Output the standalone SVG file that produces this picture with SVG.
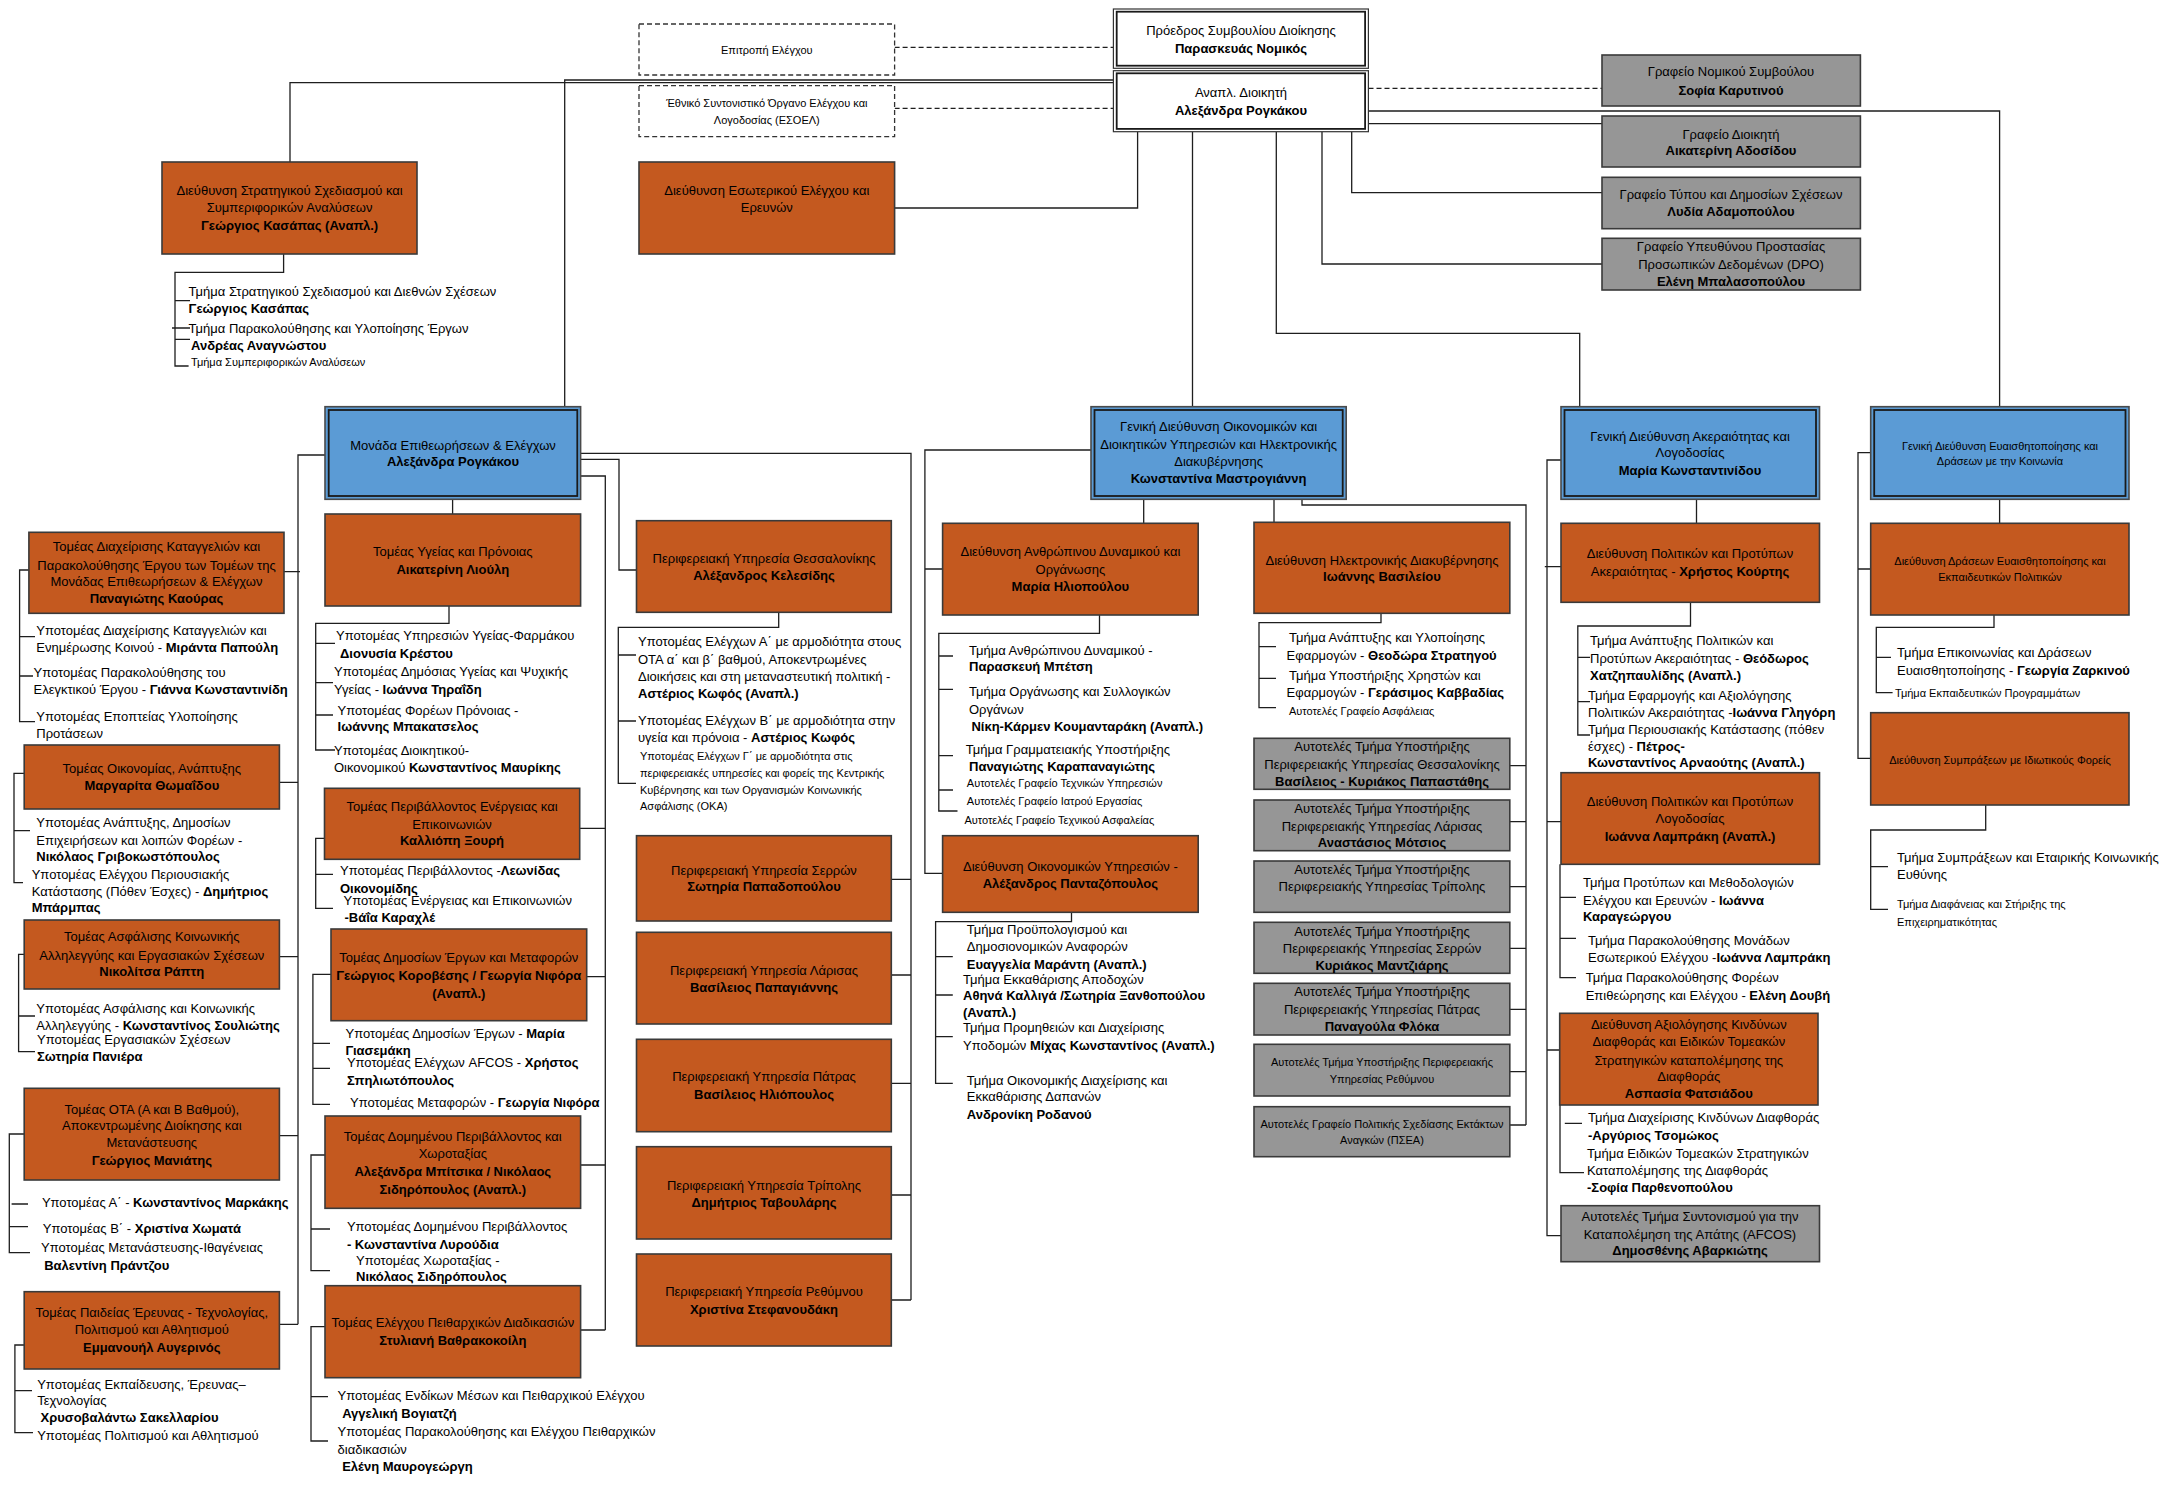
<svg xmlns="http://www.w3.org/2000/svg" width="2162" height="1491" viewBox="0 0 2162 1491">
<style>
.t{font-family:"Liberation Sans",Arial,sans-serif;font-size:13px;fill:#000}
.c{text-anchor:middle}
.b{font-weight:bold}
.n{font-size:11px}
.or{fill:#C4591F;stroke:#3a3a3a;stroke-width:1.6}
.gr{fill:#969696;stroke:#3a3a3a;stroke-width:1.6}
.bl{fill:#5B9BD5;stroke:#4a4a4a;stroke-width:1.6}
.in{fill:none;stroke:#1a1a1a;stroke-width:1.8}
.wh{fill:#fff;stroke:#333;stroke-width:1.2}
.ds{fill:#fff;stroke:#333;stroke-width:1.3;stroke-dasharray:5,3}
.ln{fill:none;stroke:#1e1e1e;stroke-width:1.3}
.dl{fill:none;stroke:#1e1e1e;stroke-width:1.3;stroke-dasharray:5,3}
</style>
<rect width="2162" height="1491" fill="#fff"/>
<g id="connectors">
<path class="dl" d="M894.6,47.3H1113.4M894.6,108.3H1113.4M1368.5,88.3H1602"/>
<path class="ln" d="M1113.4,80H564.7V406.7M1113.4,82.7H290V162M1368.5,111H1999.6V406.7M1368.5,123.7H1602M1137.6,131.7V208H894.6M1192.5,131.7V406.7M1276.3,131.7V333.3H1579.7V406.7M1322,131.7V264H1602M1351.7,131.7V192.7H1602"/>
<path class="ln" d="M283.6,254V272.3H175V366H188.6M175,300.7H190M172,328H190M175,339.3H190"/>
<path class="ln" d="M325,455H298V1324.3M284,571.7H300M279.4,782.3H298M279.4,956.7H298M279.4,1135.7H298M279.4,1324.3H298"/>
<path class="ln" d="M580.6,453.3H911V1300M891.3,879.3H911M891.3,975H911M891.3,1083.3H911M891.3,1195H911M891.3,1300H911"/>
<path class="ln" d="M580.6,459.3H619V570H636.5"/>
<path class="ln" d="M577.3,476H605.3V1330M579.7,828.3H605.3M586.7,976.7H605.3M580.6,1165H605.3M580.6,1330H605.3"/>
<path class="ln" d="M452.6,499.3V514"/>
<path class="ln" d="M449,606V623.3H315.7V750H335M315.7,643.3H335M315.7,682.7H333M315.7,715H333"/>
<path class="ln" d="M28.9,570H19.6V721.7H35M19.6,636.7H35M19.6,676H33"/>
<path class="ln" d="M24.2,773.3H14V882.7H23M14,830.7H30"/>
<path class="ln" d="M24.2,954.3H18.6V1051.7H35M18.6,1016H35"/>
<path class="ln" d="M24.2,1134H9.3V1252.7H30M11.6,1204H28M9.3,1226.7H28"/>
<path class="ln" d="M24.2,1345H14.9V1432.7H33M14.9,1390.7H32"/>
<path class="ln" d="M778.7,612.3V627.3H618.3V783.3H636M618.3,655H636M618.3,721H636"/>
<path class="ln" d="M324.5,838.3H315.7V908.3H333M315.7,874.3H333"/>
<path class="ln" d="M331,974.3H312.9V1104.3H330M312.9,1043.3H330M312.9,1068.3H330"/>
<path class="ln" d="M325,1155H311V1270.7H330M311,1229H330"/>
<path class="ln" d="M325,1326.7H311V1441H328M311,1396.7H328"/>
<path class="ln" d="M1091,450H924.9V873.3H942.6M924.9,569H942.6M1143.7,499.3V523.3M1274,499.3V522.3"/>
<path class="ln" d="M1302,499.3V505H1526V1125M1509.8,765.7H1526M1509.8,821.7H1526M1509.8,886.7H1526M1509.8,948.3H1526M1509.8,1009.3H1526M1509.8,1071.7H1526M1509.8,1125H1526"/>
<path class="ln" d="M1099.5,615V633.3H938.8V811H957.5M938.8,656H953M938.8,689.3H953M938.8,755.7H953M938.8,790H953"/>
<path class="ln" d="M1071.5,912.3V921.7H935.6V1083.3H952.8M935.6,956.7H952.8M935.6,995H952.8M935.6,1036.7H952.8"/>
<path class="ln" d="M1381,613.3V622.7H1259V707.7H1276M1259,646.7H1276M1259,678.3H1276"/>
<path class="ln" d="M1561,460H1547V1235.7H1561M1544.8,566.7H1561M1547,821.7H1561M1547,1050H1559.7M1696.5,499.3V523.3"/>
<path class="ln" d="M1690.5,602.3V626H1577.8V735H1590M1577.8,657.3H1590M1577.8,701.7H1590"/>
<path class="ln" d="M1560,864.3V977.7H1576M1560,897.3H1576M1560,938.3H1576"/>
<path class="ln" d="M1560,1105V1172.7H1584M1564.8,1123.3H1582"/>
<path class="ln" d="M1870.7,452.7H1858V758.3H1870.7M1858,569H1870.7M1999.6,499.3V523.3"/>
<path class="ln" d="M1994,615V627.3H1876.3V692.7H1892.6M1876.3,657.3H1891"/>
<path class="ln" d="M1985.7,805V830H1870.7V909.3H1888M1870.7,866.7H1888"/>
</g>

<g id="epitropi"><rect class="ds" x="639" y="24" width="255.6" height="51"/><text class="t c n" x="766.8" y="54">Επιτροπή Ελέγχου</text></g>
<g id="esoel"><rect class="ds" x="639" y="85.7" width="255.6" height="51"/><text class="t c n" x="766.8" y="107">Έθνικό Συντονιστικό Όργανο Ελέγχου και</text><text class="t c n" x="766.8" y="123.5">Λογοδοσίας (ΕΣΟΕΛ)</text></g>
<g id="proedros"><rect class="wh" x="1113.4" y="9" width="255" height="59.3"/><rect class="in" x="1116.7" y="11.7" width="248.4" height="54"/><text class="t c" x="1241" y="35.2">Πρόεδρος Συμβουλίου Διοίκησης</text><text class="t c b" x="1241" y="53.2">Παρασκευάς Νομικός</text></g>
<g id="anapl"><rect class="wh" x="1113.4" y="70.7" width="255" height="61"/><rect class="in" x="1116.7" y="73.3" width="248.4" height="55.6"/><text class="t c" x="1241" y="97.2">Αναπλ. Διοικητή</text><text class="t c b" x="1241" y="114.5">Αλεξάνδρα Ρογκάκου</text></g>
<g id="nomikos"><rect class="gr" x="1602" y="55" width="258.4" height="51"/><text class="t c" x="1731" y="76.2">Γραφείο Νομικού Συμβούλου</text><text class="t c b" x="1731" y="94.5">Σοφία Καρυτινού</text></g>
<g id="grafeio-dioikiti"><rect class="gr" x="1602" y="116" width="258.4" height="51"/><text class="t c" x="1731" y="138.5">Γραφείο Διοικητή</text><text class="t c b" x="1731" y="155.2">Αικατερίνη Αδοσίδου</text></g>
<g id="typou"><rect class="gr" x="1602" y="177.3" width="258.4" height="51.4"/><text class="t c" x="1731" y="198.8">Γραφείο Τύπου και Δημοσίων Σχέσεων</text><text class="t c b" x="1731" y="216.2">Λυδία Αδαμοπούλου</text></g>
<g id="dpo"><rect class="gr" x="1602" y="238.3" width="258.4" height="51.7"/><text class="t c" x="1731" y="251.2">Γραφείο Υπευθύνου Προστασίας</text><text class="t c" x="1731" y="268.8">Προσωπικών Δεδομένων (DPO)</text><text class="t c b" x="1731" y="286.2">Ελένη Μπαλασοπούλου</text></g>
<g id="stratigikou"><rect class="or" x="162" y="162" width="255" height="92"/><text class="t c" x="289.6" y="195.2">Διεύθυνση  Στρατηγικού Σχεδιασμού και</text><text class="t c" x="289.6" y="211.8">Συμπεριφορικών Αναλύσεων</text><text class="t c b" x="289.6" y="230.2">Γεώργιος Κασάπας (Αναπλ.)</text></g>
<g id="esoterikou"><rect class="or" x="639" y="162" width="255.6" height="92"/><text class="t c" x="766.8" y="195.2">Διεύθυνση Εσωτερικού Ελέγχου και</text><text class="t c" x="766.8" y="211.8">Ερευνών</text></g>
<g id="stratigikou-list"><text class="t" x="188.6" y="296.2">Τμήμα Στρατηγικού Σχεδιασμού και Διεθνών Σχέσεων</text><text class="t b" x="188.6" y="312.8">Γεώργιος Κασάπας</text><text class="t" x="188.6" y="333.2">Τμήμα Παρακολούθησης και Υλοποίησης Έργων</text><text class="t b" x="191" y="350.2">Ανδρέας Αναγνώστου</text><text class="t n" x="191" y="366.2">Τμήμα Συμπεριφορικών Αναλύσεων</text></g>

<g id="monada"><rect class="bl" x="325" y="406.7" width="255.6" height="92.6"/><rect class="in" x="328.7" y="410" width="248.6" height="86"/><text class="t c" x="453" y="449.5">Μονάδα Επιθεωρήσεων &amp; Ελέγχων</text><text class="t c b" x="453" y="466.2">Αλεξάνδρα Ρογκάκου</text></g>
<g id="gd-oikonomikon"><rect class="bl" x="1091" y="406.7" width="255.2" height="92.6"/><rect class="in" x="1094.5" y="410" width="248.2" height="86"/><text class="t c" x="1218.6" y="431.2">Γενική Διεύθυνση Οικονομικών και</text><text class="t c" x="1218.6" y="448.5">Διοικητικών Υπηρεσιών και Ηλεκτρονικής</text><text class="t c" x="1218.6" y="465.8">Διακυβέρνησης</text><text class="t c b" x="1218.6" y="483.2">Κωνσταντίνα Μαστρογιάννη</text></g>
<g id="gd-akeraiotitas"><rect class="bl" x="1561" y="406.7" width="258.5" height="92.6"/><rect class="in" x="1564.5" y="410" width="251.5" height="86"/><text class="t c" x="1690" y="440.5">Γενική Διεύθυνση Ακεραιότητας και</text><text class="t c" x="1690" y="457.2">Λογοδοσίας</text><text class="t c b" x="1690" y="475.2">Μαρία Κωνσταντινίδου</text></g>
<g id="gd-euaisthitopoiisis"><rect class="bl" x="1870.7" y="406.7" width="258.3" height="92.6"/><rect class="in" x="1874.2" y="410" width="251.3" height="86"/><text class="t c n" x="2000" y="449.5">Γενική Διεύθυνση Ευαισθητοποίησης και</text><text class="t c n" x="2000" y="465.2">Δράσεων με την Κοινωνία</text></g>

<g id="katagelion"><rect class="or" x="28.9" y="532.3" width="255.1" height="81"/><text class="t c" x="156.5" y="551.2">Τομέας Διαχείρισης Καταγγελιών και</text><text class="t c" x="156.5" y="569.5">Παρακολούθησης Έργου των Τομέων της</text><text class="t c" x="156.5" y="586.2">Μονάδας Επιθεωρήσεων &amp; Ελέγχων</text><text class="t c b" x="156.5" y="603.2">Παναγιώτης Καούρας</text></g>
<g id="katagelion-list"><text class="t" x="36.3" y="635.2">Υποτομέας Διαχείρισης Καταγγελιών και</text><text class="t" x="36.3" y="652.2">Ενημέρωσης Κοινού - <tspan class="b">Μιράντα Παπούλη</tspan></text><text class="t" x="33.5" y="677.2">Υποτομέας Παρακολούθησης του</text><text class="t" x="33.5" y="693.8">Ελεγκτικού Έργου - <tspan class="b">Γιάννα Κωνσταντινίδη</tspan></text><text class="t" x="36.3" y="720.5">Υποτομέας Εποπτείας Υλοποίησης</text><text class="t" x="36.3" y="737.8">Προτάσεων</text></g>

<g id="ygeias"><rect class="or" x="325" y="514" width="255.6" height="92"/><text class="t c" x="452.8" y="556.2">Τομέας Υγείας και Πρόνοιας</text><text class="t c b" x="452.8" y="573.5">Αικατερίνη Λιούλη</text></g>
<g id="ygeias-list"><text class="t" x="336" y="640.2">Υποτομέας Υπηρεσιών Υγείας-Φαρμάκου</text><text class="t b" x="340" y="657.8">Διονυσία Κρέστου</text><text class="t" x="334" y="676.2">Υποτομέας Δημόσιας Υγείας και Ψυχικής</text><text class="t" x="334" y="693.5">Υγείας  - <tspan class="b">Ιωάννα Τηραΐδη</tspan></text><text class="t" x="337.6" y="714.5">Υποτομέας Φορέων Πρόνοιας -</text><text class="t b" x="337.6" y="731.2">Ιωάννης Μπακατσελος</text><text class="t" x="334" y="754.5">Υποτομέας Διοικητικού-</text><text class="t" x="334" y="772.2">Οικονομικού <tspan class="b">Κωνσταντίνος Μαυρίκης</tspan></text></g>

<g id="thessalonikis"><rect class="or" x="636.5" y="520.7" width="254.8" height="91.6"/><text class="t c" x="764" y="562.8">Περιφερειακή Υπηρεσία Θεσσαλονίκης</text><text class="t c b" x="764" y="580.2">Αλέξανδρος Κελεσίδης</text></g>
<g id="thessalonikis-list"><text class="t" x="638" y="646.2">Υποτομέας Ελέγχων Α΄ με αρμοδιότητα στους</text><text class="t" x="638" y="663.8">ΟΤΑ α΄ και β΄ βαθμού, Αποκεντρωμένες</text><text class="t" x="638" y="681.2">Διοικήσεις και στη μεταναστευτική πολιτική -</text><text class="t b" x="638" y="697.8">Αστέριος Κωφός (Αναπλ.)</text><text class="t" x="638" y="724.5">Υποτομέας Ελέγχων Β΄ με αρμοδιότητα στην</text><text class="t" x="638" y="742.2">υγεία και πρόνοια - <tspan class="b">Αστέριος Κωφός</tspan></text><text class="t n" x="640" y="759.5">Υποτομέας Ελέγχων Γ΄ με αρμοδιότητα στις</text><text class="t n" x="640" y="777">περιφερειακές υπηρεσίες και φορείς της Κεντρικής</text><text class="t n" x="640" y="793.8">Κυβέρνησης και των Οργανισμών Κοινωνικής</text><text class="t n" x="640" y="809.5">Ασφάλισης (ΟΚΑ)</text></g>

<g id="anthropinou"><rect class="or" x="942.6" y="523.3" width="255.6" height="91.7"/><text class="t c" x="1070.4" y="556.2">Διεύθυνση Ανθρώπινου Δυναμικού και</text><text class="t c" x="1070.4" y="573.5">Οργάνωσης</text><text class="t c b" x="1070.4" y="591.2">Μαρία Ηλιοπούλου</text></g>
<g id="anthropinou-list"><text class="t" x="969" y="654.5">Τμήμα Ανθρώπινου Δυναμικού -</text><text class="t b" x="969" y="671.2">Παρασκευή Μπέτση</text><text class="t" x="969" y="696.2">Τμήμα Οργάνωσης και Συλλογικών</text><text class="t" x="969" y="713.8">Οργάνων</text><text class="t b" x="971.4" y="731.2">Νίκη-Κάρμεν Κουμανταράκη (Αναπλ.)</text><text class="t" x="965.8" y="753.8">Τμήμα Γραμματειακής Υποστήριξης</text><text class="t b" x="969" y="770.5">Παναγιώτης Καραπαναγιώτης</text><text class="t n" x="966.8" y="787.2">Αυτοτελές Γραφείο Τεχνικών Υπηρεσιών</text><text class="t n" x="966.8" y="804.5">Αυτοτελές Γραφείο Ιατρού Εργασίας</text><text class="t n" x="964.4" y="823.5">Αυτοτελές Γραφείο Τεχνικού Ασφαλείας</text></g>

<g id="oikonomikon-ypiresion"><rect class="or" x="942.6" y="835.7" width="255.6" height="76.6"/><text class="t c" x="1070.4" y="870.5">Διεύθυνση  Οικονομικών Υπηρεσιών -</text><text class="t c b" x="1070.4" y="887.8">Αλέξανδρος Πανταζόπουλος</text></g>
<g id="oikonomikon-list"><text class="t" x="966.8" y="933.5">Τμήμα Προϋπολογισμού και</text><text class="t" x="966.8" y="951.2">Δημοσιονομικών Αναφορών</text><text class="t b" x="966.8" y="968.5">Ευαγγελία Μαράντη (Αναπλ.)</text><text class="t" x="963" y="983.5">Τμήμα Εκκαθάρισης Αποδοχών</text><text class="t b" x="963" y="1000.2">Αθηνά Καλλιγά /Σωτηρία Ξανθοπούλου</text><text class="t b" x="963" y="1017.2">(Αναπλ.)</text><text class="t" x="963" y="1031.8">Τμήμα Προμηθειών και Διαχείρισης</text><text class="t" x="963" y="1049.5">Υποδομών <tspan class="b">Μίχας Κωνσταντίνος (Αναπλ.)</tspan></text><text class="t" x="966.8" y="1084.5">Τμήμα Οικονομικής Διαχείρισης και</text><text class="t" x="966.8" y="1101.2">Εκκαθάρισης Δαπανών</text><text class="t b" x="966.8" y="1118.5">Ανδρονίκη Ροδανού</text></g>

<g id="ilektronikis"><rect class="or" x="1254" y="522.3" width="255.8" height="91"/><text class="t c" x="1382" y="564.5">Διεύθυνση  Ηλεκτρονικής Διακυβέρνησης</text><text class="t c b" x="1382" y="581.2">Ιωάννης Βασιλείου</text></g>
<g id="ilektronikis-list"><text class="t" x="1289" y="641.8">Τμήμα Ανάπτυξης και Υλοποίησης</text><text class="t" x="1286.6" y="659.8">Εφαρμογών - <tspan class="b">Θεοδώρα Στρατηγού</tspan></text><text class="t" x="1289" y="679.5">Τμήμα Υποστήριξης Χρηστών και</text><text class="t" x="1286.6" y="697.2">Εφαρμογών - <tspan class="b">Γεράσιμος Καββαδίας</tspan></text><text class="t n" x="1289" y="714.5">Αυτοτελές Γραφείο Ασφάλειας</text></g>

<g id="yp-thessalonikis"><rect class="gr" x="1254" y="738.3" width="255.8" height="51"/><text class="t c" x="1382" y="751.2">Αυτοτελές Τμήμα Υποστήριξης</text><text class="t c" x="1382" y="768.8">Περιφερειακής Υπηρεσίας Θεσσαλονίκης</text><text class="t c b" x="1382" y="786.2">Βασίλειος - Κυριάκος Παπαστάθης</text></g>
<g id="yp-larisas"><rect class="gr" x="1254" y="800" width="255.8" height="50.7"/><text class="t c" x="1382" y="812.8">Αυτοτελές Τμήμα Υποστήριξης</text><text class="t c" x="1382" y="830.5">Περιφερειακής Υπηρεσίας  Λάρισας</text><text class="t c b" x="1382" y="847.2">Αναστάσιος Μότσιος</text></g>
<g id="yp-tripolis"><rect class="gr" x="1254" y="861" width="255.8" height="51.3"/><text class="t c" x="1382" y="873.8">Αυτοτελές Τμήμα Υποστήριξης</text><text class="t c" x="1382" y="891.2">Περιφερειακής Υπηρεσίας  Τρίπολης</text></g>
<g id="yp-serron"><rect class="gr" x="1254" y="922.3" width="255.8" height="51"/><text class="t c" x="1382" y="935.5">Αυτοτελές Τμήμα Υποστήριξης</text><text class="t c" x="1382" y="952.8">Περιφερειακής Υπηρεσίας  Σερρών</text><text class="t c b" x="1382" y="970.2">Κυριάκος Μαντζιάρης</text></g>
<g id="yp-patras"><rect class="gr" x="1254" y="983.3" width="255.8" height="51.7"/><text class="t c" x="1382" y="996.2">Αυτοτελές Τμήμα Υποστήριξης</text><text class="t c" x="1382" y="1013.8">Περιφερειακής Υπηρεσίας  Πάτρας</text><text class="t c b" x="1382" y="1030.5">Παναγούλα Φλόκα</text></g>
<g id="yp-rethymnou"><rect class="gr" x="1254" y="1044.3" width="255.8" height="51.7"/><text class="t c n" x="1382" y="1066.2">Αυτοτελές Τμήμα Υποστήριξης Περιφερειακής</text><text class="t c n" x="1382" y="1082.8">Υπηρεσίας  Ρεθύμνου</text></g>
<g id="psea"><rect class="gr" x="1254" y="1106.7" width="255.8" height="50"/><text class="t c n" x="1382" y="1127.8">Αυτοτελές  Γραφείο Πολιτικής Σχεδίασης Εκτάκτων</text><text class="t c n" x="1382" y="1143.8">Αναγκών (ΠΣΕΑ)</text></g>

<g id="politikon-akeraiotitas"><rect class="or" x="1561" y="523.3" width="258.5" height="79"/><text class="t c" x="1690" y="557.8">Διεύθυνση Πολιτικών και Προτύπων</text><text class="t c" x="1690" y="575.5">Ακεραιότητας - <tspan class="b">Χρήστος Κούρτης</tspan></text></g>
<g id="politikon-akeraiotitas-list"><text class="t" x="1590" y="645.2">Τμήμα Ανάπτυξης Πολιτικών και</text><text class="t" x="1590" y="662.8">Προτύπων Ακεραιότητας - <tspan class="b">Θεόδωρος</tspan></text><text class="t b" x="1590" y="680.2">Χατζηπαυλίδης (Αναπλ.)</text><text class="t" x="1588" y="700.2">Τμήμα Εφαρμογής και Αξιολόγησης</text><text class="t" x="1588" y="717.2">Πολιτικών Ακεραιότητας -<tspan class="b">Ιωάννα Γληγόρη</tspan></text><text class="t" x="1588" y="733.5">Τμήμα Περιουσιακής Κατάστασης (πόθεν</text><text class="t" x="1588" y="750.5">έσχες) - <tspan class="b">Πέτρος-</tspan></text><text class="t b" x="1588" y="767.2">Κωνσταντίνος Αρναούτης (Αναπλ.)</text></g>

<g id="logodosias"><rect class="or" x="1561" y="772.7" width="258.5" height="91.6"/><text class="t c" x="1690" y="806.2">Διεύθυνση Πολιτικών και Προτύπων</text><text class="t c" x="1690" y="822.8">Λογοδοσίας</text><text class="t c b" x="1690" y="840.5">Ιωάννα Λαμπράκη (Αναπλ.)</text></g>
<g id="logodosias-list"><text class="t" x="1583" y="887.2">Τμήμα Προτύπων και Μεθοδολογιών</text><text class="t" x="1583" y="904.5">Ελέγχου και Ερευνών - <tspan class="b">Ιωάννα</tspan></text><text class="t b" x="1583" y="921.2">Καραγεώργου</text><text class="t" x="1588" y="945.2">Τμήμα Παρακολούθησης Μονάδων</text><text class="t" x="1588" y="962.2">Εσωτερικού Ελέγχου -<tspan class="b">Ιωάννα Λαμπράκη</tspan></text><text class="t" x="1585.7" y="982.2">Τμήμα Παρακολούθησης Φορέων</text><text class="t" x="1585.7" y="999.5">Επιθεώρησης και Ελέγχου  - <tspan class="b">Ελένη Δουβή</tspan></text></g>

<g id="axiologisis"><rect class="or" x="1559.7" y="1013.3" width="258.3" height="91.7"/><text class="t c" x="1688.8" y="1028.8">Διεύθυνση Αξιολόγησης Κινδύνων</text><text class="t c" x="1688.8" y="1046.2">Διαφθοράς και Ειδικών Τομεακών</text><text class="t c" x="1688.8" y="1064.5">Στρατηγικών καταπολέμησης της</text><text class="t c" x="1688.8" y="1081.2">Διαφθοράς</text><text class="t c b" x="1688.8" y="1097.8">Ασπασία Φατσιάδου</text></g>
<g id="axiologisis-list"><text class="t" x="1588" y="1122.2">Τμήμα Διαχείρισης Κινδύνων Διαφθοράς</text><text class="t b" x="1588" y="1140.2">-Αργύριος Τσομώκος</text><text class="t" x="1587" y="1157.8">Τμήμα Ειδικών Τομεακών Στρατηγικών</text><text class="t" x="1587" y="1175.2">Καταπολέμησης της Διαφθοράς</text><text class="t b" x="1587" y="1192.2">-Σοφία Παρθενοπούλου</text></g>

<g id="afcos"><rect class="gr" x="1561" y="1205.7" width="258.5" height="56"/><text class="t c" x="1690" y="1221.2">Αυτοτελές Τμήμα Συντονισμού για την</text><text class="t c" x="1690" y="1238.5">Καταπολέμηση της Απάτης (AFCOS)</text><text class="t c b" x="1690" y="1255.2">Δημοσθένης Αβαρκιώτης</text></g>

<g id="draseon"><rect class="or" x="1870.7" y="523.3" width="258.3" height="91.7"/><text class="t c n" x="2000" y="565.2">Διεύθυνση Δράσεων Ευαισθητοποίησης και</text><text class="t c n" x="2000" y="581.2">Εκπαιδευτικών Πολιτικών</text></g>
<g id="draseon-list"><text class="t" x="1897" y="657.2">Τμήμα Επικοινωνίας και Δράσεων</text><text class="t" x="1897" y="674.5">Ευαισθητοποίησης - <tspan class="b">Γεωργία Ζαρκινού</tspan></text><text class="t n" x="1895" y="697.2">Τμήμα Εκπαιδευτικών Προγραμμάτων</text></g>
<g id="sympraxeon"><rect class="or" x="1870.7" y="712.7" width="258.3" height="92.3"/><text class="t c n" x="2000" y="763.5">Διεύθυνση Συμπράξεων με Ιδιωτικούς Φορείς</text></g>
<g id="sympraxeon-list"><text class="t" x="1897" y="861.8">Τμήμα Συμπράξεων και Εταιρικής Κοινωνικής</text><text class="t" x="1897" y="878.8">Ευθύνης</text><text class="t n" x="1897" y="907.8">Τμήμα Διαφάνειας και Στήριξης της</text><text class="t n" x="1897" y="925.5">Επιχειρηματικότητας</text></g>

<g id="oikonomias"><rect class="or" x="24.2" y="745" width="255.2" height="64"/><text class="t c" x="151.8" y="772.8">Τομέας Οικονομίας, Ανάπτυξης</text><text class="t c b" x="151.8" y="790.2">Μαργαρίτα Θωμαΐδου</text></g>
<g id="oikonomias-list"><text class="t" x="36.3" y="827.2">Υποτομέας Ανάπτυξης, Δημοσίων</text><text class="t" x="36.3" y="844.5">Επιχειρήσεων και λοιπών Φορέων -</text><text class="t b" x="36.3" y="861.2">Νικόλαος Γριβοκωστόπουλος</text><text class="t" x="31.7" y="878.5">Υποτομέας Ελέγχου Περιουσιακής</text><text class="t" x="31.7" y="895.5">Κατάστασης (Πόθεν Έσχες) - <tspan class="b">Δημήτριος</tspan></text><text class="t b" x="31.7" y="912.2">Μπάρμπας</text></g>
<g id="asfalisis"><rect class="or" x="24.2" y="920" width="255.2" height="69"/><text class="t c" x="151.8" y="941.2">Τομέας Ασφάλισης Κοινωνικής</text><text class="t c" x="151.8" y="959.5">Αλληλεγγύης και Εργασιακών Σχέσεων</text><text class="t c b" x="151.8" y="976.2">Νικολίτσα Ράπτη</text></g>
<g id="asfalisis-list"><text class="t" x="36.3" y="1012.8">Υποτομέας Ασφάλισης και Κοινωνικής</text><text class="t" x="36.3" y="1030.2">Αλληλεγγύης - <tspan class="b">Κωνσταντίνος Σουλιώτης</tspan></text><text class="t" x="37" y="1043.5">Υποτομέας Εργασιακών Σχέσεων</text><text class="t b" x="37" y="1061.2">Σωτηρία Πανιέρα</text></g>
<g id="ota"><rect class="or" x="24.2" y="1088.3" width="255.2" height="91.7"/><text class="t c" x="151.8" y="1113.5">Τομέας ΟΤΑ (Α και Β Βαθμού),</text><text class="t c" x="151.8" y="1130.2">Αποκεντρωμένης Διοίκησης και</text><text class="t c" x="151.8" y="1147.2">Μετανάστευσης</text><text class="t c b" x="151.8" y="1164.5">Γεώργιος Μανιάτης</text></g>
<g id="ota-list"><text class="t" x="41.9" y="1207.2">Υποτομέας Α΄ - <tspan class="b">Κωνσταντίνος Μαρκάκης</tspan></text><text class="t" x="42.8" y="1232.8">Υποτομέας Β΄ - <tspan class="b">Χριστίνα Χωματά</tspan></text><text class="t" x="41" y="1251.8">Υποτομέας Μετανάστευσης-Ιθαγένειας</text><text class="t b" x="44.2" y="1270.2">Βαλεντίνη Πράντζου</text></g>
<g id="paideias"><rect class="or" x="24.2" y="1291.7" width="255.2" height="77.3"/><text class="t c" x="151.8" y="1317.2">Τομέας Παιδείας Έρευνας - Τεχνολογίας,</text><text class="t c" x="151.8" y="1333.8">Πολιτισμού και Αθλητισμού</text><text class="t c b" x="151.8" y="1352.2">Εμμανουήλ Αυγερινός</text></g>
<g id="paideias-list"><text class="t" x="37.2" y="1388.5">Υποτομέας Εκπαίδευσης, Έρευνας–</text><text class="t" x="37.2" y="1405.2">Τεχνολογίας</text><text class="t b" x="40.5" y="1421.8">Χρυσοβαλάντω Σακελλαρίου</text><text class="t" x="37.2" y="1439.5">Υποτομέας Πολιτισμού και Αθλητισμού</text></g>

<g id="perivallontos"><rect class="or" x="324.5" y="788.3" width="255.2" height="71"/><text class="t c" x="452" y="811.2">Τομέας Περιβάλλοντος Ενέργειας και</text><text class="t c" x="452" y="828.5">Επικοινωνιών</text><text class="t c b" x="452" y="845.2">Καλλιόπη Ξουρή</text></g>
<g id="perivallontos-list"><text class="t" x="340" y="875.2">Υποτομέας Περιβάλλοντος -<tspan class="b">Λεωνίδας</tspan></text><text class="t b" x="340" y="892.8">Οικονομίδης</text><text class="t" x="343.6" y="905.2">Υποτομέας Ενέργειας και Επικοινωνιών</text><text class="t b" x="344.5" y="922.2">-Βάΐα Καραχλέ</text></g>
<g id="dimosion-ergon"><rect class="or" x="331" y="929" width="255.7" height="91.7"/><text class="t c" x="458.8" y="962.2">Τομέας Δημοσίων Έργων και Μεταφορών</text><text class="t c b" x="458.8" y="979.5">Γεώργιος Κοροβέσης / Γεωργία Νιφόρα</text><text class="t c b" x="458.8" y="997.8">(Αναπλ.)</text></g>
<g id="dimosion-ergon-list"><text class="t" x="345.5" y="1037.8">Υποτομέας Δημοσίων Έργων - <tspan class="b">Μαρία</tspan></text><text class="t b" x="345.5" y="1054.5">Γιασεμάκη</text><text class="t" x="346.9" y="1067.2">Υποτομέας Ελέγχων AFCOS - <tspan class="b">Χρήστος</tspan></text><text class="t b" x="346.9" y="1085.2">Σπηλιωτόπουλος</text><text class="t" x="350" y="1107.2">Υποτομέας Μεταφορών - <tspan class="b">Γεωργία Νιφόρα</tspan></text></g>
<g id="domimenou"><rect class="or" x="325" y="1116" width="255.6" height="92.3"/><text class="t c" x="452.8" y="1141.2">Τομέας Δομημένου Περιβάλλοντος και</text><text class="t c" x="452.8" y="1157.8">Χωροταξίας</text><text class="t c b" x="452.8" y="1175.5">Αλεξάνδρα Μπίτσικα / Νικόλαος</text><text class="t c b" x="452.8" y="1193.5">Σιδηρόπουλος (Αναπλ.)</text></g>
<g id="domimenou-list"><text class="t" x="346.9" y="1231.2">Υποτομέας Δομημένου Περιβάλλοντος</text><text class="t b" x="346.9" y="1248.8">- Κωνσταντίνα Λυρούδια</text><text class="t" x="356" y="1264.5">Υποτομέας Χωροταξίας -</text><text class="t b" x="356" y="1281.2">Νικόλαος Σιδηρόπουλος</text></g>
<g id="peitharchikon"><rect class="or" x="325" y="1285.7" width="255.6" height="92"/><text class="t c" x="452.8" y="1326.8">Τομέας Ελέγχου Πειθαρχικών Διαδικασιών</text><text class="t c b" x="452.8" y="1345.2">Στυλιανή Βαθρακοκοίλη</text></g>
<g id="peitharchikon-list"><text class="t" x="337.6" y="1400.2">Υποτομέας Ενδίκων Μέσων και Πειθαρχικού Ελέγχου</text><text class="t b" x="342.2" y="1417.8">Αγγελική Βογιατζή</text><text class="t" x="337.6" y="1436.2">Υποτομέας Παρακολούθησης και Ελέγχου Πειθαρχικών</text><text class="t" x="337.6" y="1453.8">διαδικασιών</text><text class="t b" x="342.2" y="1471.2">Ελένη Μαυρογεώργη</text></g>

<g id="serron"><rect class="or" x="636.5" y="835.7" width="254.8" height="85.3"/><text class="t c" x="764" y="874.5">Περιφερειακή Υπηρεσία Σερρών</text><text class="t c b" x="764" y="891.2">Σωτηρία Παπαδοπούλου</text></g>
<g id="larisas"><rect class="or" x="636.5" y="932.3" width="254.8" height="91.7"/><text class="t c" x="764" y="974.5">Περιφερειακή Υπηρεσία Λάρισας</text><text class="t c b" x="764" y="992.2">Βασίλειος Παπαγιάννης</text></g>
<g id="patras"><rect class="or" x="636.5" y="1039.3" width="254.8" height="92.4"/><text class="t c" x="764" y="1081.2">Περιφερειακή Υπηρεσία Πάτρας</text><text class="t c b" x="764" y="1098.8">Βασίλειος Ηλιόπουλος</text></g>
<g id="tripolis"><rect class="or" x="636.5" y="1146.7" width="254.8" height="92.3"/><text class="t c" x="764" y="1189.5">Περιφερειακή Υπηρεσία Τρίπολης</text><text class="t c b" x="764" y="1206.8">Δημήτριος Ταβουλάρης</text></g>
<g id="rethymnou"><rect class="or" x="636.5" y="1254" width="254.8" height="92"/><text class="t c" x="764" y="1296.2">Περιφερειακή Υπηρεσία Ρεθύμνου</text><text class="t c b" x="764" y="1313.5">Χριστίνα Στεφανουδάκη</text></g>
</svg>
